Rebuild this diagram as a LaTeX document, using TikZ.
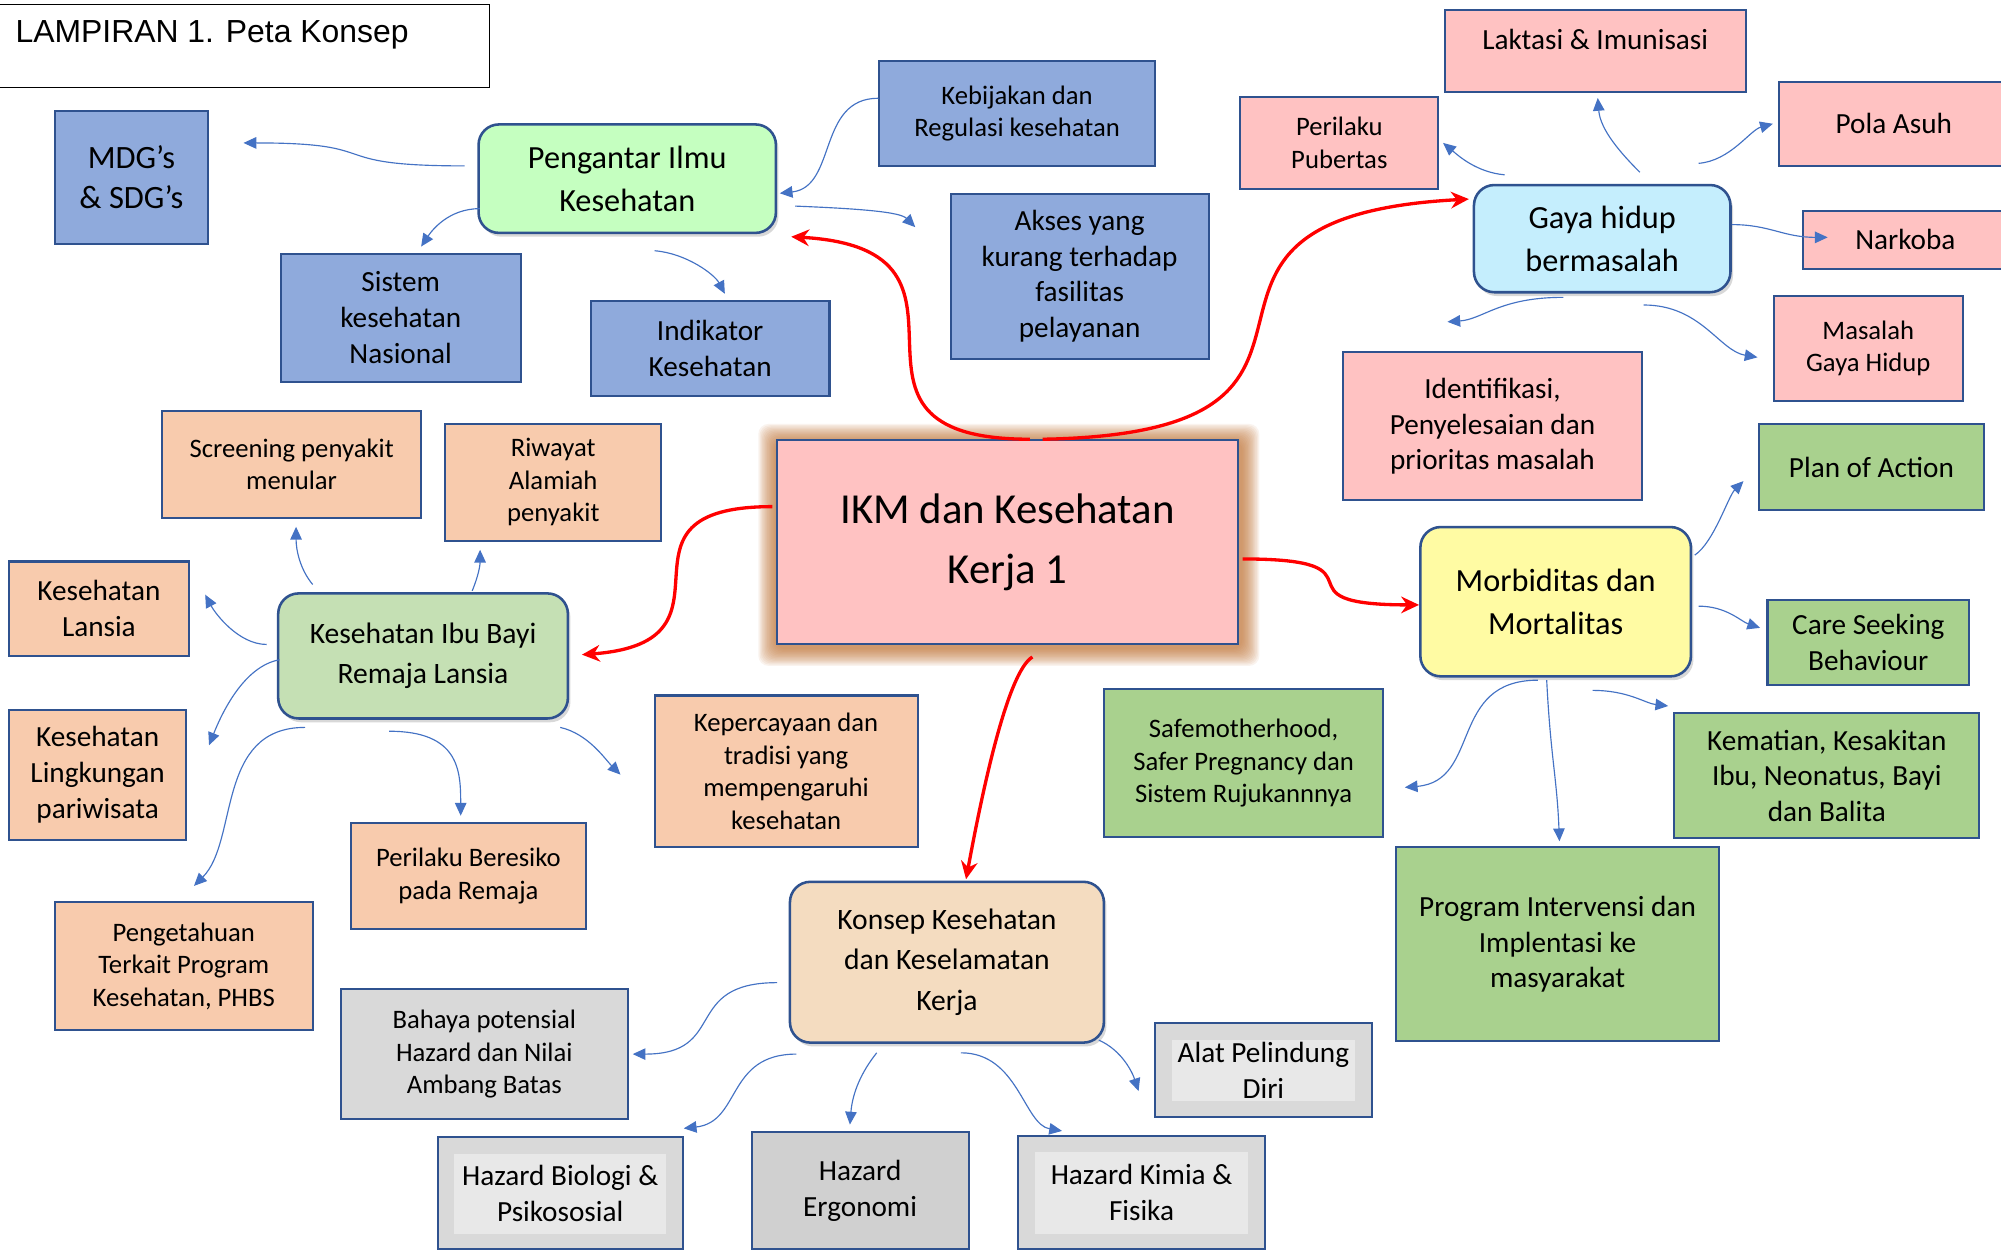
\documentclass[tikz,border=0pt]{standalone}
\usepackage{fontspec}
\setmainfont{Carlito}
\newfontfamily\titlefont{Liberation Sans}
\usepackage{xcolor}
\usepackage{tikz}
\usetikzlibrary{arrows.meta}
\usetikzlibrary{shadows}
\usetikzlibrary{backgrounds}

\definecolor{boxblue}{HTML}{8FAADC}
\definecolor{edgeblue}{HTML}{2F528F}
\definecolor{boxpink}{HTML}{FFC2C2}
\definecolor{boxpeach}{HTML}{F8CBAD}
\definecolor{boxgreen}{HTML}{A9D18E}
\definecolor{boxgrey}{HTML}{D9D9D9}
\definecolor{greyin}{HTML}{E8E8E8}
\definecolor{greydark}{HTML}{D0D0D0}
\definecolor{mint}{HTML}{C5FFC0}
\definecolor{sage}{HTML}{C5E0B4}
\definecolor{skyblue}{HTML}{C5EEFD}
\definecolor{lemon}{HTML}{FFFBA3}
\definecolor{sand}{HTML}{F4DCC0}
\definecolor{linkblue}{HTML}{4472C4}
\definecolor{glowbrown}{HTML}{C0702E}

\begin{document}
\begin{tikzpicture}[x=1pt,y=1pt,
    sz/.style 2 args={minimum width=#1pt, minimum height=#2pt},
    box/.style={draw=edgeblue, line width=1.6pt, inner sep=0pt, align=center},
    bluebox/.style={box, fill=boxblue},
    pinkbox/.style={box, fill=boxpink},
    peachbox/.style={box, fill=boxpeach},
    greenbox/.style={box, fill=boxgreen},
    greybox/.style={box, fill=boxgrey},
    greyframe/.style={greybox, path picture={\fill[greyin]
        ([shift={(13pt,-13pt)}]path picture bounding box.north west) rectangle
        ([shift={(-13pt,12pt)}]path picture bounding box.south east);}},
    hub/.style={draw=edgeblue, line width=2pt, rounded corners=16pt, inner sep=0pt, align=center,
        drop shadow={shadow xshift=2pt, shadow yshift=-3pt, opacity=0.3}},
    fXL/.style={font=\fontsize{33.5}{47}\selectfont},
    fL/.style={font=\fontsize{25.3}{34}\selectfont},
    fK/.style={font=\fontsize{23.2}{31.5}\selectfont},
    fM/.style={font=\fontsize{22.9}{28}\selectfont},
    fS/.style={font=\fontsize{20.9}{25.5}\selectfont},
    link/.style={linkblue, line width=0.9pt, -{Triangle[length=10pt,width=9pt]}},
    mainlink/.style={red, line width=2.6pt, -{Stealth[length=14pt,width=13pt]}}]

  \useasboundingbox (0,0) rectangle (1568,-981);
  \clip (0,0) rectangle (1568,-981);

  \node[draw, line width=0.8pt, sz={385}{65}, anchor=north west] (titlebox) at (-2,-3) {};
  \node[anchor=west, inner sep=0pt, font=\titlefont\fontsize{25}{28}\selectfont] (title) at (12,-27) {LAMPIRAN 1. Peta Konsep};

  % Pengantar Ilmu Kesehatan
  \node[hub, fill=mint, fL, sz={233}{85}] (pim) at (491.5,-140) {Pengantar Ilmu\\Kesehatan};
  \node[bluebox, font=\fontsize{25.5}{31}\selectfont, sz={120}{104}] (mdg) at (103,-139) {MDG’s\\\& SDG’s};
  \node[bluebox, fS, sz={216}{82}] (regulasi) at (797,-89) {Kebijakan dan\\Regulasi kesehatan};
  \node[bluebox, fM, sz={202}{129}] (akses) at (846,-216.5) {Akses yang\\kurang terhadap\\fasilitas\\pelayanan};
  \node[bluebox, fM, sz={188}{100}] (sistem) at (314,-249) {Sistem\\kesehatan\\Nasional};
  \node[bluebox, fM, sz={187}{74}] (indikator) at (556.5,-273) {Indikator\\Kesehatan};

  % Gaya hidup bermasalah
  \node[hub, fill=skyblue, fL, sz={201}{84}] (gaya) at (1255.5,-187) {Gaya hidup\\bermasalah};
  \node[pinkbox, fM, sz={236}{64}, text depth=18pt] (laktasi) at (1250,-40) {Laktasi \& Imunisasi};
  \node[pinkbox, fS, sz={155}{72}] (pubertas) at (1049.5,-112) {Perilaku\\Pubertas};
  \node[pinkbox, fM, sz={180}{66}] (polaasuh) at (1484,-97) {Pola Asuh};
  \node[pinkbox, fM, sz={160}{46}] (narkoba) at (1493,-188) {Narkoba};
  \node[pinkbox, fS, sz={148}{82}] (masalah) at (1464,-273) {Masalah\\Gaya Hidup};
  \node[pinkbox, fM, sz={235}{116}] (identifikasi) at (1169.5,-334) {Identifikasi,\\Penyelesaian dan\\prioritas masalah};

  \node[box, fill=boxpink, fXL, sz={361}{160}] (ikm) at (789.5,-425) {IKM dan Kesehatan\\Kerja 1};

  % Kesehatan Ibu Bayi Remaja Lansia
  \node[hub, fill=sage, fK, sz={227}{98}] (kib) at (331.5,-514) {Kesehatan Ibu Bayi\\Remaja Lansia};
  \node[peachbox, fS, sz={203}{84}] (screening) at (228.5,-364) {Screening penyakit\\menular};
  \node[peachbox, fS, sz={169}{92}] (riwayat) at (433.5,-378) {Riwayat\\Alamiah\\penyakit};
  \node[peachbox, fM, sz={141}{74}] (lansia) at (77.5,-477) {Kesehatan\\Lansia};
  \node[peachbox, fM, sz={139}{102}] (lingkungan) at (76.5,-607) {Kesehatan\\Lingkungan\\pariwisata};
  \node[peachbox, fS, sz={206}{119}] (kepercayaan) at (616,-604.5) {Kepercayaan dan\\tradisi yang\\mempengaruhi\\kesehatan};
  \node[peachbox, fS, sz={184}{83}] (beresiko) at (367,-686.5) {Perilaku Beresiko\\pada Remaja};
  \node[peachbox, fS, sz={202}{100}] (pengetahuan) at (144,-757) {Pengetahuan\\Terkait Program\\Kesehatan, PHBS};

  % Morbiditas dan Mortalitas
  \node[hub, fill=lemon, fL, sz={212}{117}] (morb) at (1219,-471.5) {Morbiditas dan\\Mortalitas};
  \node[greenbox, fM, sz={177}{68}] (plan) at (1466.5,-366) {Plan of Action};
  \node[greenbox, fM, sz={158}{67}] (care) at (1464,-503.5) {Care Seeking\\Behaviour};
  \node[greenbox, fS, sz={219}{116}] (safe) at (974.5,-598) {Safemotherhood,\\Safer Pregnancy dan\\Sistem Rujukannnya};
  \node[greenbox, fM, sz={239}{98}] (kematian) at (1431.5,-608) {Kematian, Kesakitan\\Ibu, Neonatus, Bayi\\dan Balita};
  \node[greenbox, fM, sz={253}{152}] (program) at (1220.5,-740) {Program Intervensi dan\\Implentasi ke\\masyarakat};

  % Konsep Kesehatan dan Keselamatan Kerja
  \node[hub, fill=sand, fK, sz={246}{126}] (konsep) at (742,-754) {Konsep Kesehatan\\dan Keselamatan\\Kerja};
  \node[greybox, fS, sz={225}{102}] (bahaya) at (379.5,-826) {Bahaya potensial\\Hazard dan Nilai\\Ambang Batas};
  \node[greyframe, fM, sz={170}{73}] (apd) at (990,-838.5) {Alat Pelindung\\Diri};
  \node[greyframe, fM, sz={192}{88}] (biologi) at (439,-935) {Hazard Biologi \&\\Psikososial};
  \node[box, fill=greydark, fM, sz={170}{92}] (ergonomi) at (674,-933) {Hazard\\Ergonomi};
  \node[greyframe, fM, sz={193}{89}] (kimia) at (894.5,-934.5) {Hazard Kimia \&\\Fisika};

  \begin{pgfonlayer}{background}
    \fill[white] (0,0) rectangle (1568,-981);
    \foreach \g in {1,...,14}
      \fill[glowbrown, opacity=0.08, rounded corners=8pt]
        ([shift={(-\g,\g-2)}]ikm.north west) rectangle ([shift={(\g+2,-\g-2)}]ikm.south east);
  \end{pgfonlayer}

  \draw[link] ([shift={(-10,10)}]pim.west) .. controls +(-115,0) and +(115,0) .. ([shift={(27,27)}]mdg.east);
  \draw[link] ([shift={(2,20)}]pim.south west) .. controls +(-25,0) and +(8,12) .. ([shift={(16,5)}]sistem.north);
  \draw[link] ([shift={(21.5,-13)}]pim.south) .. controls +(25,-2) and +(-8,15) .. ([shift={(11.5,5)}]indikator.north);
  \draw[link] ([shift={(0,12)}]regulasi.west) .. controls +(-48,0) and +(45,5) .. ([shift={(2,-11.5)}]pim.east);
  \draw[link] ([shift={(14,-21.5)}]pim.east) .. controls +(50,-2) and +(-12,12) .. ([shift={(-27,38.5)}]akses.west);

  \draw[link] ([shift={(25,7)}]gaya.north west) .. controls +(-22,2) and +(12,-10) .. ([shift={(3,0)}]pubertas.east);
  \draw[link] ([shift={(29.5,9)}]gaya.north) .. controls +(-15,15) and +(2,-25) .. ([shift={(2,-4)}]laktasi.south);
  \draw[link] ([shift={(-26,16)}]gaya.north east) .. controls +(25,2) and +(-18,-5) .. ([shift={(-4,0)}]polaasuh.west);
  \draw[link] ([shift={(0,11)}]gaya.east) .. controls +(30,0) and +(-35,0) .. ([shift={(20,2)}]narkoba.west);
  \draw[link] ([shift={(-30.5,-3)}]gaya.south) .. controls +(-50,0) and +(28,2) .. ([shift={(83,23)}]identifikasi.north west);
  \draw[link] ([shift={(32.5,-9)}]gaya.south) .. controls +(45,0) and +(-30,5) .. ([shift={(-12,-7)}]masalah.west);

  \draw[link] ([shift={(28,6)}]kib.north west) .. controls +(-10,12) and +(0,-18) .. ([shift={(3.5,-6)}]screening.south);
  \draw[link] ([shift={(38.5,1)}]kib.north) .. controls +(5,12) and +(0,-12) .. ([shift={(28,-6)}]riwayat.south west);
  \draw[link] ([shift={(-8,9)}]kib.west) .. controls +(-22,0) and +(8,-15) .. ([shift={(12,11)}]lansia.east);
  \draw[link] ([shift={(2,-3)}]kib.west) .. controls +(-28,-5) and +(10,25) .. ([shift={(17,23)}]lingkungan.east);
  \draw[link] ([shift={(22,-6)}]kib.south west) .. controls +(-70,0) and +(35,35) .. ([shift={(8,12)}]pengetahuan.north);
  \draw[link] ([shift={(-26.5,-9)}]kib.south) .. controls +(55,0) and +(0,35) .. ([shift={(-6,5)}]beresiko.north);
  \draw[link] ([shift={(-7,-6)}]kib.south east) .. controls +(22,-5) and +(-12,12) .. ([shift={(-26,-2.5)}]kepercayaan.west);

  \draw[link] ([shift={(2,36.5)}]morb.east) .. controls +(15,10) and +(-12,-12) .. ([shift={(-11,-11)}]plan.west);
  \draw[link] ([shift={(5,-3.5)}]morb.east) .. controls +(22,0) and +(-15,5) .. ([shift={(-5,11.5)}]care.west);
  \draw[link] ([shift={(-14,-2)}]morb.south) .. controls +(-70,0) and +(60,5) .. ([shift={(16,-19)}]safe.east);
  \draw[link] ([shift={(-7,-2)}]morb.south) .. controls +(3,-60) and +(-2,50) .. ([shift={(1.5,4)}]program.north);
  \draw[link] ([shift={(29,-10)}]morb.south) .. controls +(28,0) and +(-18,2) .. ([shift={(-4,5)}]kematian.north west);

  \draw[link] ([shift={(-9,-16)}]konsep.west) .. controls +(-75,0) and +(75,0) .. ([shift={(3,0)}]bahaya.east);
  \draw[link] ([shift={(6,-8)}]konsep.south west) .. controls +(-55,0) and +(45,5) .. ([shift={(0,6)}]biologi.north east);
  \draw[link] ([shift={(-55,-7)}]konsep.south) .. controls +(-12,-15) and +(2,25) .. ([shift={(-8,5)}]ergonomi.north);
  \draw[link] ([shift={(11,-7)}]konsep.south) .. controls +(45,0) and +(-30,5) .. ([shift={(35,3)}]kimia.north west);
  \draw[link] ([shift={(-5,3)}]konsep.south east) .. controls +(18,-8) and +(-5,15) .. ([shift={(-12,-16.5)}]apd.west);

  % red links from the centre
  \draw[mainlink] ([shift={(17.5,0)}]ikm.north) .. controls +(-180,0) and +(175,-10) .. ([shift={(11,-2)}]pim.south east);
  \draw[mainlink] ([shift={(27.5,0)}]ikm.north) .. controls +(290,5) and +(-280,-15) .. ([shift={(-3,31)}]gaya.west);
  \draw[mainlink] ([shift={(-3,28)}]ikm.west) .. controls +(-140,0) and +(135,10) .. ([shift={(10,1)}]kib.east);
  \draw[mainlink] ([shift={(3,-13)}]ikm.east) .. controls +(120,0) and +(-120,0) .. ([shift={(0,-2.5)}]morb.west);
  \draw[mainlink] ([shift={(19.5,-9)}]ikm.south) .. controls +(-20,-12) and +(12,65) .. ([shift={(15,1)}]konsep.north);
\end{tikzpicture}
\end{document}
